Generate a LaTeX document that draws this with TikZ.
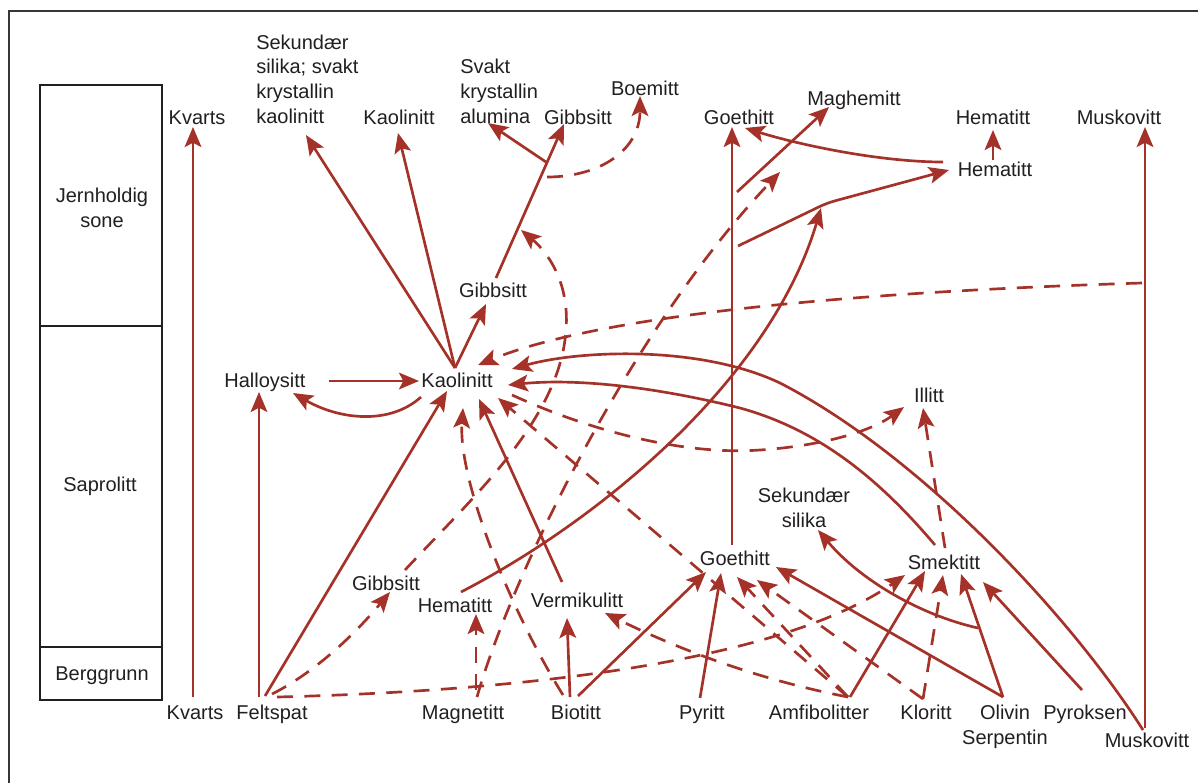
\documentclass[tikz,border=0pt]{standalone}
\usepackage{fontspec}
\setmainfont{Liberation Sans}
\usetikzlibrary{arrows.meta}
\definecolor{ln}{RGB}{165,50,40}
\definecolor{tx}{RGB}{35,31,32}
\begin{document}
\begin{tikzpicture}[x=0.75pt,y=-0.75pt,
  lbl/.style={text=tx, inner sep=0pt, font=\fontsize{15}{18.5}\selectfont, anchor=base},
  con/.style={draw=ln, line width=2pt, -{Stealth[length=15pt,width=12.5pt,inset=3.2pt]}},
  dsh/.style={dash pattern=on 12pt off 8.5pt},
  colbox/.style={draw=tx, line width=2.2pt}]
\useasboundingbox (0,0) rectangle (1198,782);
\fill[white] (0,0) rectangle (1198,782);
\draw[draw=tx!90, line width=2pt] (9,790) -- (9,11) -- (1205,11);
% zone column
\draw[colbox] (40,85) rectangle (162,700);
\draw[colbox] (40,326) -- (162,326);
\draw[colbox] (40,647) -- (162,647);
\node[lbl, align=center] (zJ) at (102,227.5) {Jernholdig\\sone};
\node[lbl] (zS) at (100,491) {Saprolitt};
\node[lbl] (zB) at (102,680) {Berggrunn};
% top row
\node[lbl] (kvT) at (197,124) {Kvarts};
\node[lbl, anchor=base west, align=left] (sekT) at (256,123) {Sekundær\\silika; svakt\\krystallin\\kaolinitt};
\node[lbl] (kaT) at (399,124) {Kaolinitt};
\node[lbl, anchor=base west, align=left] (alu) at (460,123) {Svakt\\krystallin\\alumina};
\node[lbl] (gibT) at (578,124) {Gibbsitt};
\node[lbl] (boe) at (645,95) {Boemitt};
\node[lbl] (goeT) at (739,124) {Goethitt};
\node[lbl] (mag) at (854,105) {Maghemitt};
\node[lbl] (hemT) at (993,124) {Hematitt};
\node[lbl] (musT) at (1119,124) {Muskovitt};
\node[lbl] (hem2) at (995,176) {Hematitt};
% middle
\node[lbl] (gibM) at (493,297) {Gibbsitt};
\node[lbl] (hal) at (265,387) {Halloysitt};
\node[lbl] (kaM) at (457,387) {Kaolinitt};
\node[lbl] (ill) at (929,402) {Illitt};
\node[lbl, align=center] (sekM) at (804,527) {Sekundær\\silika};
\node[lbl] (goeL) at (735,565) {Goethitt};
\node[lbl] (sme) at (944,569) {Smektitt};
\node[lbl] (gibL) at (386,590) {Gibbsitt};
\node[lbl] (hemL) at (455,612) {Hematitt};
\node[lbl] (ver) at (577,607) {Vermikulitt};
% bottom row
\node[lbl] (kvB) at (195,719) {Kvarts};
\node[lbl] (fel) at (272,719) {Feltspat};
\node[lbl] (magn) at (463,719) {Magnetitt};
\node[lbl] (bio) at (576,719) {Biotitt};
\node[lbl] (pyr) at (702,719) {Pyritt};
\node[lbl] (amf) at (819,719) {Amfibolitter};
\node[lbl] (klo) at (926,719) {Kloritt};
\node[lbl, align=center] (oli) at (1005,744) {Olivin\\Serpentin};
\node[lbl] (pyro) at (1085,719) {Pyroksen};
\node[lbl] (musB) at (1147,747) {Muskovitt};
% connector end points
\coordinate (kvBn) at (193,697); \coordinate (kvTs) at (193,127);
\coordinate (felA) at (259,697); \coordinate (halS) at (259,392);
\coordinate (felB) at (265,696); \coordinate (kaSW) at (447,391);
\coordinate (halE) at (329,381); \coordinate (kaW) at (419,381);
\coordinate (kaWS) at (421,397); \coordinate (halSE) at (293,393);
\coordinate (kaN) at (455,368); \coordinate (gibMS) at (486,304);
\coordinate (sekTS) at (306,135); \coordinate (kaTS) at (398,133);
\coordinate (gibMN) at (496,278); \coordinate (gibTS) at (564,124);
\coordinate (br1) at (546,162); \coordinate (aluS) at (488,123);
\coordinate (br2) at (547,177); \coordinate (boeS) at (640,96);
\coordinate (goeLN) at (732,545); \coordinate (goeTS) at (732,127);
\coordinate (goeB1) at (737,192); \coordinate (magS) at (829,107);
\coordinate (hem2W) at (943,162); \coordinate (goeTE) at (745,128);
\coordinate (hem2N) at (993,160); \coordinate (hemTS) at (993,130);
\coordinate (goeB2) at (738,246); \coordinate (bend) at (827,203); \coordinate (hem2Wb) at (949,170);
\coordinate (hemLN) at (461,592); \coordinate (bendS) at (821,208);
\coordinate (verN) at (562,582); \coordinate (kaS2) at (479,399);
\coordinate (bioN1) at (570,697); \coordinate (verS) at (567,618);
\coordinate (bioN2) at (578,696); \coordinate (goeLSW) at (706,572);
\coordinate (pyrN) at (700,698); \coordinate (goeLS1) at (721,573);
\coordinate (amfN) at (850,697); \coordinate (smeSW) at (925,571);
\coordinate (oliN) at (1003,697); \coordinate (goeLSE) at (776,567); \coordinate (smeS2) at (961,574);
\coordinate (pyroN) at (1082,690); \coordinate (smeSE) at (983,582);
\coordinate (musBN) at (1145,728); \coordinate (musTS) at (1145,127);
\coordinate (musBc) at (1143,730); \coordinate (kaE1) at (512,369);
\coordinate (smeNW) at (935,545); \coordinate (kaE2) at (508,385);
\coordinate (oliBr) at (978,628); \coordinate (sekMS) at (818,530);
\coordinate (musD) at (1142,283); \coordinate (kaNE) at (478,365);
\coordinate (magN) at (477,697); \coordinate (magTip) at (780,172);
\coordinate (bioN3) at (563,695); \coordinate (kaS1) at (463,408);
\coordinate (amfD) at (848,697); \coordinate (kaSE) at (498,398);
\coordinate (kaE3) at (512,395); \coordinate (illW) at (904,407);
\coordinate (magN2) at (476,690); \coordinate (hemLS) at (476,614);
\coordinate (felC) at (272,694); \coordinate (gibLS) at (390,592);
\coordinate (gibLN) at (405,570); \coordinate (gibTip) at (521,230);
\coordinate (felD) at (277,697); \coordinate (smeW) at (905,575);
\coordinate (verE) at (605,613);
\coordinate (goeLS2) at (737,577);
\coordinate (kloN) at (923,699); \coordinate (goeLS3) at (757,580);
\coordinate (smeS1) at (943,575);
\coordinate (smeN) at (945,548); \coordinate (illS) at (923,408);
% solid connectors
\draw[con] (kvBn) -- (kvTs);
\draw[con] (felA) -- (halS);
\draw[con] (felB) -- (kaSW);
\draw[con] (halE) -- (kaW);
\draw[con] (kaWS) .. controls (390,425) and (340,420) .. (halSE);
\draw[con] (kaN) -- (gibMS);
\draw[con] (kaN) -- (sekTS);
\draw[con] (kaN) -- (kaTS);
\draw[con] (gibMN) -- (gibTS);
\draw[con] (br1) -- (aluS);
\draw[con,dsh] (br2) .. controls (600,177) and (640,150) .. (boeS);
\draw[con] (goeLN) -- (goeTS);
\draw[con] (goeB1) -- (magS);
\draw[con] (hem2W) .. controls (880,162) and (800,145) .. (goeTE);
\draw[con] (hem2N) -- (hemTS);
\draw[con, rounded corners=6pt] (goeB2) -- (bend) -- (hem2Wb);
\draw[con] (hemLN) .. controls (600,520) and (770,380) .. (bendS);
\draw[con] (verN) -- (kaS2);
\draw[con] (bioN1) -- (verS);
\draw[con] (bioN2) -- (goeLSW);
\draw[con] (pyrN) -- (goeLS1);
\draw[con] (amfN) -- (smeSW);
\draw[con] (oliN) -- (goeLSE);
\draw[con] (oliN) -- (smeS2);
\draw[con] (pyroN) -- (smeSE);
\draw[con] (musBN) -- (musTS);
\draw[con] (musBc) .. controls (1070,615) and (920,455) .. (780,383) .. controls (700,345) and (580,350) .. (kaE1);
\draw[con] (smeNW) .. controls (880,480) and (820,430) .. (740,408) .. controls (660,388) and (580,378) .. (kaE2);
\draw[con] (oliBr) .. controls (920,615) and (860,580) .. (sekMS);
% dashed connectors
\draw[con,dsh] (musD) .. controls (850,292) and (600,315) .. (kaNE);
\draw[con,dsh] (magN) .. controls (510,580) and (630,330) .. (magTip);
\draw[con,dsh] (bioN3) .. controls (510,610) and (458,480) .. (kaS1);
\draw[con,dsh] (amfD) -- (kaSE);
\draw[con,dsh] (kaE3) .. controls (600,435) and (690,455) .. (760,450) .. controls (820,446) and (870,432) .. (illW);
\draw[con,dsh] (magN2) -- (hemLS);
\draw[con,dsh] (felC) .. controls (310,675) and (350,640) .. (gibLS);
\draw[con,dsh] (gibLN) .. controls (470,500) and (560,420) .. (566,330) .. controls (570,280) and (545,250) .. (gibTip);
\draw[con,dsh] (felD) .. controls (560,690) and (790,655) .. (smeW);
\draw[con,dsh] (amfD) .. controls (760,680) and (680,650) .. (verE);
\draw[con,dsh] (amfD) -- (goeLS2);
\draw[con,dsh] (kloN) -- (goeLS3);
\draw[con,dsh] (kloN) -- (smeS1);
\draw[con,dsh] (smeN) -- (illS);
\end{tikzpicture}
\end{document}
